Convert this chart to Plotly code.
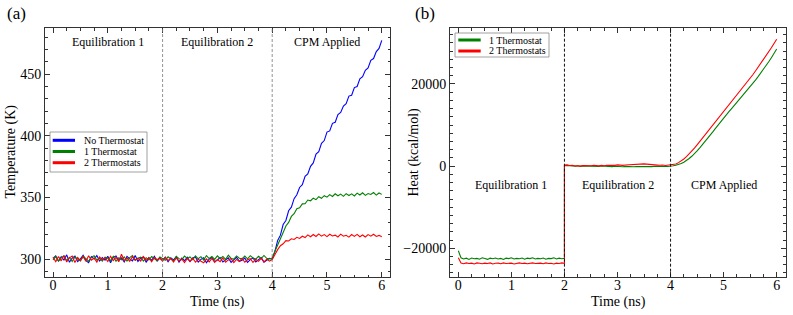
import plotly.graph_objects as go

# ---------------- data ----------------
time_ns = [round(i * 0.05, 2) for i in range(121)]  # 0 .. 6 ns

temp_none_eq = [300.5, 302.6, 298.2, 301.8, 299.2, 303.4, 297.4, 300.8, 302.4, 297.9,
                300.2, 303.1, 298.6, 297.1, 301.9, 300.0, 302.8, 298.4, 301.2, 299.0,
                302.3, 296.9, 301.4, 302.5, 298.8, 300.9, 297.7, 302.1, 300.1, 298.5,
                302.9, 298.1, 300.8, 301.6, 297.3, 301.1, 298.9, 302.2, 298.3, 300.7,
                299.1, 301.5, 297.8, 301.0, 299.3, 301.9, 297.4, 300.7, 298.6, 301.4,
                298.0, 300.8, 301.7, 297.5, 299.7, 301.1, 297.0, 299.9, 301.3, 297.9,
                299.2, 301.2, 297.6, 299.6, 300.9, 297.3, 299.3, 301.4, 298.1, 299.0,
                300.7, 297.2, 299.5, 300.8, 297.7, 299.1, 301.1, 297.5, 299.4, 300.6, 299.8]
temp_none_cpm = [306.2, 315.1, 319.4, 328.0, 331.3, 339.2, 342.1, 349.0, 352.2, 358.1,
                 360.3, 367.2, 369.1, 375.3, 378.0, 385.2, 387.1, 394.0, 396.2, 403.1,
                 404.0, 410.2, 411.1, 417.3, 419.0, 424.2, 426.1, 432.3, 433.0, 439.2,
                 440.1, 446.3, 448.0, 453.2, 455.1, 461.3, 462.8, 468.4, 471.0, 477.5]

temp_one_eq = [299.3, 302.0, 298.4, 301.1, 302.5, 298.8, 301.4, 298.0, 301.7, 300.1,
               298.5, 302.3, 300.4, 298.2, 301.4, 302.7, 299.0, 300.8, 298.3, 301.5,
               300.6, 298.7, 302.2, 298.1, 301.0, 299.4, 301.8, 298.4, 301.2, 302.9,
               298.9, 300.7, 301.5, 298.3, 301.1, 299.2, 302.0, 300.0, 298.7, 301.6,
               300.4, 299.0, 301.8, 300.2, 298.4, 302.1, 300.3, 299.3, 302.4, 300.5,
               301.7, 299.4, 302.5, 300.2, 301.9, 299.1, 302.8, 300.4, 302.0, 299.7,
               302.6, 300.3, 302.1, 299.8, 303.1, 300.5, 299.9, 302.5, 300.7, 300.1,
               302.4, 300.2, 302.7, 300.8, 300.0, 302.2, 300.4, 302.9, 300.6, 300.1, 300.8]
temp_one_cpm = [306.3, 311.8, 317.5, 321.6, 326.8, 329.7, 334.6, 336.8, 340.9, 341.6,
                344.8, 344.9, 347.9, 347.3, 349.4, 348.2, 350.6, 349.3, 351.4, 350.2,
                352.3, 350.8, 353.0, 351.4, 352.7, 350.9, 353.1, 351.6, 352.9, 351.2,
                353.5, 352.0, 353.8, 351.7, 353.2, 352.4, 354.0, 351.9, 353.6, 352.5]

temp_two_eq = [301.4, 297.9, 302.1, 298.5, 302.8, 297.6, 301.0, 302.4, 297.1, 301.3,
               298.8, 301.9, 298.2, 302.6, 299.1, 300.8, 297.4, 301.7, 299.3, 301.1,
               298.0, 302.2, 298.7, 301.4, 297.8, 303.9, 298.6, 300.9, 298.1, 301.8,
               299.2, 300.7, 298.4, 302.0, 298.9, 301.2, 297.7, 301.1, 299.4, 300.6,
               298.3, 301.4, 298.8, 300.4, 297.6, 300.8, 298.4, 300.1, 297.2, 300.3,
               298.1, 300.7, 297.4, 299.9, 298.2, 297.0, 300.1, 297.7, 300.5, 297.3,
               299.6, 297.9, 300.8, 297.4, 299.3, 300.2, 297.1, 299.7, 298.0, 300.6,
               297.4, 299.4, 300.3, 297.2, 299.8, 298.1, 300.5, 297.6, 299.9, 298.3, 299.6]
temp_two_cpm = [304.1, 307.6, 310.8, 312.4, 314.9, 314.6, 316.4, 315.9, 317.6, 316.7,
                318.5, 317.4, 319.6, 318.1, 319.9, 318.3, 320.4, 318.6, 319.8, 318.2,
                320.1, 318.7, 319.4, 317.9, 320.2, 318.5, 319.3, 317.8, 319.9, 318.4,
                320.0, 318.1, 319.5, 317.9, 319.8, 318.6, 320.1, 318.3, 319.2, 318.0]

temp_none = temp_none_eq + temp_none_cpm
temp_one = temp_one_eq + temp_one_cpm
temp_two = temp_two_eq + temp_two_cpm

heat_time_eq1 = [round(i * 0.05, 2) for i in range(41)]        # 0 .. 2 ns
heat_time_rest = [round(2 + i * 0.05, 2) for i in range(81)]   # 2 .. 6 ns
heat_time = heat_time_eq1 + heat_time_rest

heat_one_eq1 = [-20600, -22300, -22600, -22400, -22700, -22350, -22550, -22450, -22650, -22300,
                -22500, -22700, -22400, -22550, -22350, -22600, -22450, -22700, -22400, -22500,
                -22300, -22600, -22450, -22550, -22350, -22650, -22400, -22500, -22300, -22600,
                -22450, -22550, -22350, -22650, -22450, -22500, -22300, -22600, -22400, -22550, -22450]
heat_one_eq2 = [100, 150, 50, 120, 0, 80, -50, 60, 20, -30, 40, -60, 10, -80, 30, -40, -90, 0, -120, -30,
                -100, -50, -150, -60, -110, -20, -130, -70, -100, -40, -150, -80, -60, -120, -30, -90,
                -140, -50, -100, -80, -60]
heat_one_cpm = [80, 200, 380, 620, 950, 1350, 1850, 2400, 3000, 3700,
                4450, 5200, 6000, 6800, 7600, 8400, 9250, 10100, 10950, 11800,
                12500, 13250, 14000, 14750, 15500, 16250, 17000, 17750, 18550, 19350,
                20150, 20950, 21800, 22650, 23550, 24450, 25400, 26400, 27400, 28500]

heat_two_eq1 = [-22300, -23600, -23750, -23550, -23700, -23600, -23800, -23550, -23650, -23750,
                -23600, -23700, -23550, -23800, -23650, -23600, -23750, -23550, -23700, -23650,
                -23600, -23800, -23650, -23550, -23700, -23600, -23750, -23650, -23550, -23700,
                -23650, -23600, -23750, -23550, -23700, -23650, -23800, -23600, -23700, -23550, -23650]
heat_two_eq2 = [250, 300, 150, 200, 50, 100, 0, 120, 60, 150, 90, 200, 130, 60, 180, 100, 220, 150, 260, 190,
                300, 220, 180, 280, 330, 250, 370, 450, 520, 430, 550, 480, 380, 300, 350, 250,
                200, 280, 150, 220, 180]
heat_two_cpm = [250, 500, 850, 1250, 1750, 2300, 2950, 3650, 4400, 5200,
                6000, 6800, 7600, 8400, 9200, 10000, 10800, 11600, 12500, 13400,
                14150, 14900, 15700, 16450, 17250, 18050, 18850, 19700, 20550, 21400,
                22250, 23150, 24050, 24950, 25850, 26800, 27800, 28800, 29850, 30900]

heat_one = heat_one_eq1 + heat_one_eq2 + heat_one_cpm
heat_two = heat_two_eq1 + heat_two_eq2 + heat_two_cpm

phase_labels = ["Equilibration 1", "Equilibration 2", "CPM Applied"]
phase_centers = [1, 3, 5]
phase_bounds = [2, 4]

temp_names = ["No Thermostat", "1 Thermostat", "2 Thermostats"]
temp_colors = ["#0000ff", "#008000", "#ff0000"]
heat_names = ["1 Thermostat", "2 Thermostats"]
heat_colors = ["#008000", "#ff0000"]

# ---------------- figure ----------------
W, H = 793, 315
FONT = "Liberation Serif, Times New Roman, Times, serif"
AX = "#333333"

fig = go.Figure()
for ys, c in zip([temp_none, temp_one, temp_two], temp_colors):
    fig.add_trace(go.Scatter(x=time_ns, y=ys, mode="lines", line=dict(color=c, width=1.1),
                             showlegend=False, xaxis="x", yaxis="y"))
for ys, c in zip([heat_one, heat_two], heat_colors):
    fig.add_trace(go.Scatter(x=heat_time, y=ys, mode="lines", line=dict(color=c, width=1.1),
                             showlegend=False, xaxis="x2", yaxis="y2"))


def px(x):
    return x / W


def py(y):
    return 1 - y / H


common = dict(showline=True, linecolor=AX, linewidth=1, mirror="allticks", ticks="inside",
              ticklen=5, tickcolor=AX, tickwidth=0.8, showgrid=False, zeroline=False,
              automargin=False, tickfont=dict(family=FONT, size=14, color="black"))

fig.update_layout(
    width=W, height=H, margin=dict(l=0, r=0, t=0, b=0, autoexpand=False),
    paper_bgcolor="white", plot_bgcolor="white", showlegend=False,
    font=dict(family=FONT, color="black"),
    xaxis=dict(domain=[px(45), px(390)], range=[-0.146, 6.15], tick0=0, dtick=1, anchor="y",
               ticklabelstandoff=-5,
               minor=dict(dtick=0.25, ticks="inside", ticklen=2.5, tickcolor=AX), **common),
    yaxis=dict(domain=[py(277), py(28)], range=[285.4, 487.6], tick0=300, dtick=50, anchor="x",
               minor=dict(dtick=10, ticks="inside", ticklen=2.5, tickcolor=AX), **common),
    xaxis2=dict(domain=[px(450), px(785.7)], range=[-0.157, 6.17], tick0=0, dtick=1, anchor="y2",
                ticklabelstandoff=-5,
                minor=dict(dtick=0.25, ticks="inside", ticklen=2.5, tickcolor=AX), **common),
    yaxis2=dict(domain=[py(276.7), py(28)], range=[-26910, 33625], tick0=0, dtick=20000, anchor="x2",
                tickformat="d",
                minor=dict(dtick=2000, ticks="inside", ticklen=2.5, tickcolor=AX), **common),
)

shapes = []
annotations = []
# phase boundaries
for b in phase_bounds:
    shapes.append(dict(type="line", xref="x", yref="y domain", x0=b, x1=b, y0=0, y1=1,
                       line=dict(color="#777777", width=0.8, dash="3px,2px")))
    shapes.append(dict(type="line", xref="x2", yref="y2 domain", x0=b, x1=b, y0=0, y1=1,
                       line=dict(color="#111111", width=1, dash="3px,2px")))
# phase labels
for lab, xc in zip(phase_labels, phase_centers):
    annotations.append(dict(text=lab, x=xc, xref="x", y=py(42.5), yref="paper", showarrow=False,
                            font=dict(family=FONT, size=12), xanchor="center", yanchor="middle"))
    annotations.append(dict(text=lab, x=xc, xref="x2", y=py(185), yref="paper", showarrow=False,
                            font=dict(family=FONT, size=12), xanchor="center", yanchor="middle"))

# legends (drawn manually)
shapes.append(dict(type="rect", xref="paper", yref="paper", x0=px(50), x1=px(147), y0=py(172), y1=py(132),
                   line=dict(color="#888888", width=0.8), fillcolor="white", layer="above"))
for i, (n, c) in enumerate(zip(temp_names, temp_colors)):
    yy = 140.3 + i * 11.2
    shapes.append(dict(type="line", xref="paper", yref="paper", x0=px(52.7), x1=px(75), y0=py(yy), y1=py(yy),
                       line=dict(color=c, width=3), layer="above"))
    annotations.append(dict(text=n, x=px(81.5), y=py(yy), xref="paper", yref="paper", showarrow=False,
                            xanchor="left", yanchor="middle", font=dict(family=FONT, size=10)))

shapes.append(dict(type="rect", xref="paper", yref="paper", x0=px(455), x1=px(549), y0=py(57), y1=py(33),
                   line=dict(color="#888888", width=0.8), fillcolor="white", layer="above"))
for i, (n, c) in enumerate(zip(heat_names, heat_colors)):
    yy = 40 + i * 11
    shapes.append(dict(type="line", xref="paper", yref="paper", x0=px(458.3), x1=px(480.7), y0=py(yy), y1=py(yy),
                       line=dict(color=c, width=3), layer="above"))
    annotations.append(dict(text=n, x=px(486.5), y=py(yy), xref="paper", yref="paper", showarrow=False,
                            xanchor="left", yanchor="middle", font=dict(family=FONT, size=10)))

# axis titles and panel labels
annotations += [
    dict(text="Time (ns)", x=px(217.5), y=py(302), xref="paper", yref="paper", showarrow=False,
         font=dict(family=FONT, size=14), xanchor="center", yanchor="middle"),
    dict(text="Time (ns)", x=px(618), y=py(302), xref="paper", yref="paper", showarrow=False,
         font=dict(family=FONT, size=14), xanchor="center", yanchor="middle"),
    dict(text="Temperature (K)", x=px(10.5), y=py(152), xref="paper", yref="paper", showarrow=False,
         textangle=-90, font=dict(family=FONT, size=14), xanchor="center", yanchor="middle"),
    dict(text="Heat (kcal/mol)", x=px(413.5), y=py(152), xref="paper", yref="paper", showarrow=False,
         textangle=-90, font=dict(family=FONT, size=14), xanchor="center", yanchor="middle"),
    dict(text="(a)", x=px(16), y=py(14), xref="paper", yref="paper", showarrow=False,
         font=dict(family=FONT, size=17), xanchor="center", yanchor="middle"),
    dict(text="(b)", x=px(425), y=py(14), xref="paper", yref="paper", showarrow=False,
         font=dict(family=FONT, size=17), xanchor="center", yanchor="middle"),
]

fig.update_layout(shapes=shapes, annotations=annotations)
fig.write_html("out.html", config={"displayModeBar": False},
               post_script="document.body.style.margin='0px'; document.body.style.padding='0px';")
